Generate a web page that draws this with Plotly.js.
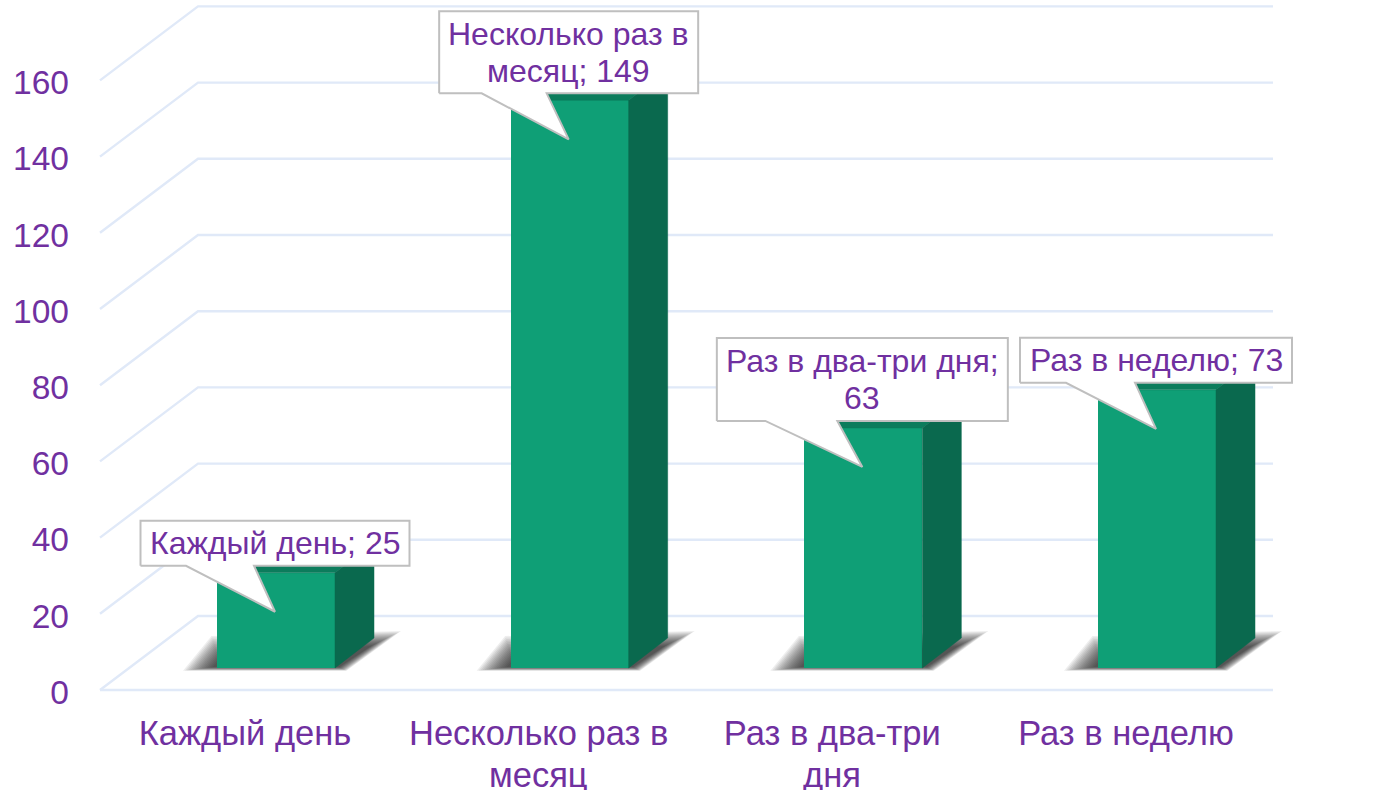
<!DOCTYPE html>
<html><head><meta charset="utf-8">
<script src="https://cdn.plot.ly/plotly-3.0.1.min.js"></script>
<style>html,body{margin:0;padding:0;background:#fff}</style></head>
<body><div id="chart" style="width:1374px;height:790px"></div>
<script>
const categories = ["Каждый день", "Несколько раз в<br>месяц", "Раз в два-три<br>дня", "Раз в неделю"];
const calloutLabels = ["Каждый день; 25", "Несколько раз в<br>месяц; 149", "Раз в два-три дня;<br>63", "Раз в неделю; 73"];
const values = [25, 149, 63, 73];
const yTicks = [0, 20, 40, 60, 80, 100, 120, 140, 160];

// chart geometry (pixel scale of the axes)
const pxPerCat = 293.67, pxPerUnit = 3.81;
const plotL = 94, plotR = 1340, plotT = 0, plotB = 700, zeroPx = 690, firstCatPx = 245;
const xr = [(plotL - firstCatPx) / pxPerCat, (plotR - firstCatPx) / pxPerCat];
const yr = [(zeroPx - plotB) / pxPerUnit, (zeroPx - plotT) / pxPerUnit];
const dxp = p => p / pxPerCat, dyp = p => p / pxPerUnit;
// callout pixel sizes: width, height, tail start, tail end
const calloutW = [269, 259, 291, 272];
const calloutH = [45, 82, 83, 45];
const tailA = [-89, -87, -97, -90], tailB = [-21, -22, -25, -21];
const calloutLineGap = 37;

const barShift = dxp(31), barW = dxp(118), barBase = dyp(22);
const depthX = dxp(39), depthY = dyp(30);
const floorL = (100 - firstCatPx) / pxPerCat, wallL = floorL + dxp(98), floorR = (1273 - firstCatPx) / pxPerCat;
const wallY = dyp(74);

const gridColor = "#e0e9f8", purple = "#7030a0";
const fontFam = "Liberation Sans, Arial, sans-serif";
const shapes = [];
function seg(pts, color, w) {
  shapes.push({type:"path", layer:"below", xref:"x", yref:"y",
    path: "M" + pts.map(p => p[0] + "," + p[1]).join("L"),
    line:{color:color, width:w}});
}
yTicks.forEach(v => seg([[floorL, v], [wallL, v + wallY], [floorR, v + wallY]], gridColor, 2.4));
seg([[floorL, 0], [floorR, 0]], gridColor, 2.4);

// soft floor shadows: nested layers of low opacity, outermost first
const shadowLayers = 16;
values.forEach((v, i) => {
  const L = i + barShift - barW / 2, R = i + barShift + barW / 2, b = barBase;
  for (let k = 0; k < shadowLayers; k++) {
    const s = shadowLayers - 1 - k;
    const p = [
      [L + dxp(-4 - 2 * s), b + dyp(1 - 0.25 * s)],
      [L + dxp(2 - 0.5 * s), b + dyp(8 + 1.6 * s)],
      [R + dxp(36 + 2 * s), b + dyp(22 + 1.0 * s)],
      [R + dxp(4 + 0.5 * s), b + dyp(1 - 0.25 * s)]
    ];
    shapes.push({type:"path", layer:"below", xref:"x", yref:"y",
      path: "M" + p.map(q => q[0] + "," + q[1]).join("L") + "Z",
      fillcolor:"rgba(20,20,20,0.07)", line:{width:0}});
  }
});

const traces = [];
// front faces
traces.push({type:"bar", x:values.map((v, i) => i + barShift), y:values, base:values.map(() => barBase),
  width:barW, marker:{color:"#0f9f76", line:{width:0}}, hoverinfo:"skip", showlegend:false});
// side and top faces
const sideX = [], sideY = [], topX = [], topY = [];
values.forEach((v, i) => {
  const L = i + barShift - barW / 2, R = i + barShift + barW / 2, b = barBase, t = b + v;
  sideX.push(R, R + depthX, R + depthX, R, R, null);
  sideY.push(b, b + depthY, t + depthY, t, b, null);
  topX.push(L, L + depthX, R + depthX, R, L, null);
  topY.push(t, t + depthY, t + depthY, t, t, null);
});
traces.push({type:"scatter", mode:"lines", x:topX, y:topY, fill:"toself", fillcolor:"#0c7c5c",
  line:{width:0.5, color:"#0c7c5c"}, hoverinfo:"skip", showlegend:false});
traces.push({type:"scatter", mode:"lines", x:sideX, y:sideY, fill:"toself", fillcolor:"#0a694e",
  line:{width:0.5, color:"#0a694e"}, hoverinfo:"skip", showlegend:false});

// callouts
const annotations = [];
values.forEach((v, i) => {
  const cx = i + barShift - dxp(1), tipY = barBase + v - dyp(39);
  const w = calloutW[i], h = calloutH[i];
  const bot = tipY + dyp(46), top = bot + dyp(h);
  const l = cx - dxp(w / 2), r = cx + dxp(w / 2);
  traces.push({type:"scatter", mode:"lines",
    x:[l, cx + dxp(tailA[i]), cx, cx + dxp(tailB[i]), r, r, l, l],
    y:[bot, bot, tipY, bot, bot, top, top, bot],
    fill:"toself", fillcolor:"#ffffff", line:{color:"#bfbfbf", width:2},
    hoverinfo:"skip", showlegend:false});
  const lines = calloutLabels[i].split("<br>");
  lines.forEach((txt, n) => {
    annotations.push({x:cx, y:(bot + top) / 2, xref:"x", yref:"y", text:txt, showarrow:false,
      yshift:((lines.length - 1) / 2 - n) * calloutLineGap,
      xanchor:"center", yanchor:"middle", align:"center",
      font:{family:fontFam, size:32, color:purple}});
  });
});

// category labels: the wrapped second lines sit closer than Plotly's line spacing
const firstLines = categories.map(c => c.split("<br>")[0]);
categories.forEach((c, i) => {
  const parts = c.split("<br>");
  if (parts.length > 1) {
    annotations.push({x:i, xref:"x", y:-(775 - plotB) / (plotB - plotT), yref:"paper", text:parts[1],
      showarrow:false, xanchor:"center", yanchor:"middle",
      font:{family:fontFam, size:34.5, color:purple}});
  }
});

Plotly.newPlot("chart", traces, {
  width:1374, height:790, paper_bgcolor:"#fff", plot_bgcolor:"rgba(0,0,0,0)", showlegend:false,
  margin:{l:plotL, r:1374 - plotR, t:plotT, b:790 - plotB, pad:0},
  bargap:0,
  xaxis:{type:"linear", range:xr, tickmode:"array", tickvals:categories.map((c, i) => i), ticktext:firstLines,
    showgrid:false, zeroline:false, showline:false, ticks:"", ticklabelstandoff:9, tickangle:0,
    tickfont:{family:fontFam, size:34.5, color:purple}},
  yaxis:{range:yr, tickmode:"array", tickvals:yTicks, ticktext:yTicks.map(String),
    showgrid:false, zeroline:false, showline:false, ticks:"", ticklabelstandoff:24, ticklabelshift:2,
    tickfont:{family:fontFam, size:33.5, color:purple}},
  shapes:shapes, annotations:annotations
}, {displayModeBar:false, staticPlot:true});
</script></body></html>
